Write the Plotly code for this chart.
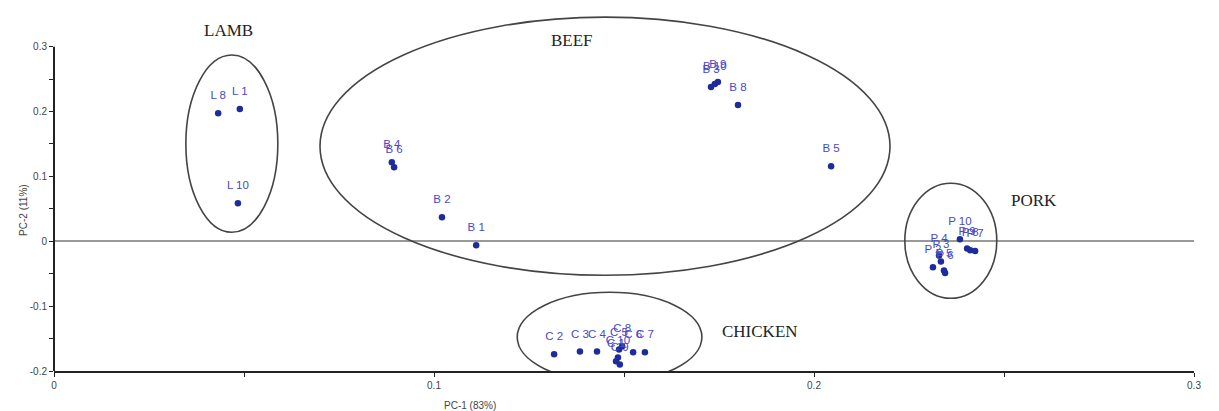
import plotly.graph_objects as go

# PCA scores (PC-1, PC-2) per meat sample
lamb_labels = ["L 8", "L 1", "L 10"]
lamb_pc1 = [0.0432, 0.0489, 0.0484]
lamb_pc2 = [0.1975, 0.2040, 0.0586]

beef_labels = ["B 1", "B 2", "B 4", "B 6", "B 3", "B 10", "B 9", "B 8", "B 5"]
beef_pc1 = [0.1111, 0.1021, 0.0889, 0.0895, 0.1729, 0.1739, 0.1747, 0.1800, 0.2045]
beef_pc2 = [-0.0060, 0.0370, 0.1220, 0.1140, 0.2377, 0.2423, 0.2454, 0.2100, 0.1157]

pork_labels = ["P 10", "P 9", "P 8", "P 7", "P 2", "P 4", "P 3", "P 5", "P 6"]
pork_pc1 = [0.2384, 0.2403, 0.2411, 0.2424, 0.2313, 0.2329, 0.2334, 0.2342, 0.2345]
pork_pc2 = [0.0030, -0.0110, -0.0140, -0.0150, -0.0400, -0.0220, -0.0310, -0.0450, -0.0490]

chicken_labels = ["C 2", "C 3", "C 4", "C 5", "C 6", "C 7", "C 8", "C 1", "C 10", "C 9"]
chicken_pc1 = [0.1316, 0.1384, 0.1429, 0.1487, 0.1524, 0.1555, 0.1495, 0.1479, 0.1484, 0.1489]
chicken_pc2 = [-0.1740, -0.1700, -0.1700, -0.1670, -0.1710, -0.1710, -0.1620, -0.1850, -0.1790, -0.1900]

# Group outlines: (center PC-1, center PC-2, half width, half height)
groups = {
    "LAMB": (0.0468, 0.1505, 0.0121, 0.1366),
    "BEEF": (0.1450, 0.1466, 0.0750, 0.1990),
    "PORK": (0.2360, 0.0008, 0.0121, 0.0887),
    "CHICKEN": (0.1462, -0.1477, 0.0243, 0.0690),
}
group_titles = [("LAMB", 0.0458, 0.3256), ("BEEF", 0.1363, 0.3100),
                ("PORK", 0.2580, 0.0630), ("CHICKEN", 0.1858, -0.1390)]

x_range = [0, 0.3]
y_range = [-0.2, 0.372]
y_axis_top = 0.3

x_ticks = [0, 0.05, 0.1, 0.15, 0.2, 0.25, 0.3]
x_ticktext = ["0", "", "0.1", "", "0.2", "", "0.3"]
y_ticks = [-0.2, -0.15, -0.1, -0.05, 0, 0.05, 0.1, 0.15, 0.2, 0.25, 0.3]
y_ticktext = ["-0.2", "", "-0.1", "", "0", "", "0.1", "", "0.2", "", "0.3"]

point_color = "#1c2c9c"
label_color = "#4a4ac4"

fig = go.Figure()
for lbls, xs, ys in [(lamb_labels, lamb_pc1, lamb_pc2),
                     (beef_labels, beef_pc1, beef_pc2),
                     (pork_labels, pork_pc1, pork_pc2),
                     (chicken_labels, chicken_pc1, chicken_pc2)]:
    # sample points
    fig.add_trace(go.Scatter(
        x=xs, y=ys, mode="markers",
        marker=dict(size=6.5, color=point_color),
        showlegend=False, hoverinfo="skip",
    ))
    # sample names, lifted above the points by an invisible larger marker
    fig.add_trace(go.Scatter(
        x=xs, y=ys, text=lbls, mode="markers+text",
        textposition="top center",
        textfont=dict(family="Liberation Sans, Arial", size=11.5, color=label_color),
        marker=dict(size=16, color="rgba(0,0,0,0)"),
        showlegend=False, hoverinfo="skip",
    ))

shapes = []
for name, (cx, cy, hw, hh) in groups.items():
    shapes.append(dict(type="circle", xref="x", yref="y",
                       x0=cx - hw, x1=cx + hw, y0=cy - hh, y1=cy + hh,
                       line=dict(color="#444444", width=1.6)))

# vertical axis line from the bottom of the axis up to the last tick
shapes.append(dict(type="line", xref="x domain", yref="y domain",
                   x0=0, x1=0, y0=0,
                   y1=(y_axis_top - y_range[0]) / (y_range[1] - y_range[0]),
                   line=dict(color="#222222", width=2)))

annotations = []
for name, gx, gy in group_titles:
    annotations.append(dict(text=name, x=gx, y=gy, xref="x", yref="y",
                            showarrow=False,
                            font=dict(family="Liberation Serif, Times New Roman", size=17,
                                      color="#222222")))
annotations.append(dict(text="PC-1 (83%)", x=0.1095, y=-0.092, xref="x", yref="paper",
                        showarrow=False, yanchor="middle",
                        font=dict(family="Liberation Sans, Arial", size=10, color="#444444")))
annotations.append(dict(text="PC-2 (11%)", x=-0.034, y=0.048, xref="paper", yref="y",
                        showarrow=False, textangle=-90,
                        font=dict(family="Liberation Sans, Arial", size=10, color="#444444")))

fig.update_layout(
    width=1219, height=411,
    margin=dict(l=54, r=25, t=0, b=40),
    paper_bgcolor="white", plot_bgcolor="white",
    shapes=shapes, annotations=annotations,
    xaxis=dict(range=x_range, tickvals=x_ticks, ticktext=x_ticktext,
               showgrid=False, zeroline=False, showline=True,
               linecolor="#222222", linewidth=2, ticks="outside", ticklen=4,
               tickcolor="#222222",
               tickfont=dict(family="Liberation Sans, Arial", size=10, color="#444444")),
    yaxis=dict(range=y_range, tickvals=y_ticks, ticktext=y_ticktext,
               showgrid=False, zeroline=True, zerolinecolor="#999999", zerolinewidth=1.5,
               showline=False, ticks="outside", ticklen=4, tickcolor="#222222",
               tickfont=dict(family="Liberation Sans, Arial", size=10, color="#444444")),
)

fig.write_html("out.html")
